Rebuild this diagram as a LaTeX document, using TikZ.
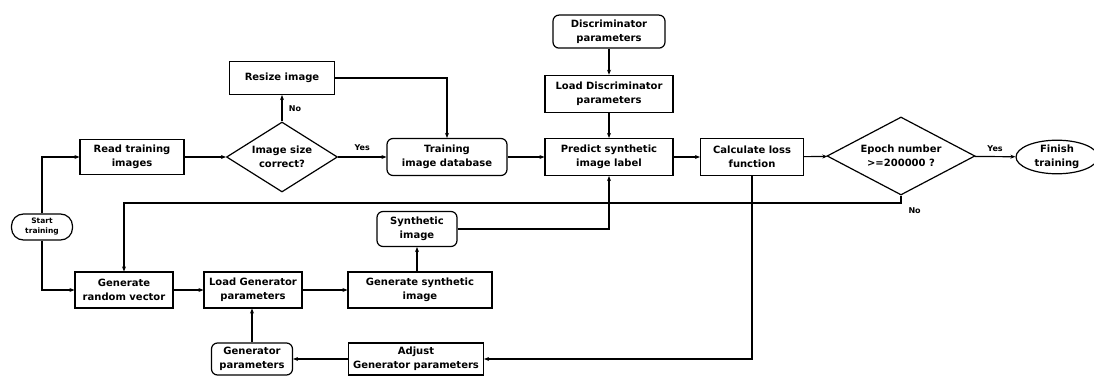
\documentclass[tikz,border=0pt]{standalone}
\usepackage{fontspec}
\setmainfont{DejaVu Sans}
\usepackage{tikz}
\usetikzlibrary{arrows.meta,positioning,shapes.geometric}
\newcommand{\boxfont}{\fontsize{10}{14}\selectfont\bfseries}
\newcommand{\smallfont}{\fontsize{7.5}{10}\selectfont\bfseries}

\begin{document}
\begin{tikzpicture}[x=1pt,y=-1pt,
  box/.style={draw,line width=1.2pt,align=center,font=\boxfont,inner sep=1pt,minimum height=36pt},
  rbox/.style={box,rounded corners=6pt},
  term/.style={draw,line width=1.2pt,align=center,font=\smallfont,inner sep=0pt,rounded corners=12pt,minimum height=26pt},
  dec/.style={draw,diamond,line width=1.2pt,align=center,font=\boxfont,inner sep=0pt},
  lbl/.style={font=\fontsize{8}{9}\selectfont\bfseries},
  ar/.style={-{Stealth[length=5pt,width=4pt]},line width=1.2pt}]
\useasboundingbox (0,0) rectangle (1094,379);
\node[term,minimum width=61pt] (start) at (42,227) {Start\\training};
\node[box,minimum width=104pt,minimum height=35pt] (read) at (132,157) {Read training\\images};
\node[dec,minimum width=111pt,minimum height=70pt,aspect=1.6] (imgsize) at (282,157) {Image size\\correct?};
\node[box,minimum width=105pt,minimum height=33pt] (resize) at (282,78) {Resize image};
\node[rbox,minimum width=120pt,minimum height=37pt] (training) at (447,157) {Training\\image database};
\node[box,minimum width=128pt,minimum height=37pt] (predict) at (609,157) {Predict synthetic\\image label};
\node[box,minimum width=128pt,minimum height=37pt,above=25pt of predict] (loaddisc) {Load Discriminator\\parameters};
\node[rbox,minimum width=112pt,minimum height=33pt,above=26pt of loaddisc] (discparams) {Discriminator\\parameters};
\node[box,minimum width=103pt,minimum height=37pt] (calc) at (752,157) {Calculate loss\\function};
\node[dec,minimum width=148pt,minimum height=78pt,aspect=1.9] (epoch) at (901,156) {Epoch number\\>=200000 ?};
\node[draw,line width=1.2pt,ellipse,align=center,font=\boxfont,inner sep=0pt,minimum width=82pt,minimum height=28pt] (finish) at (1057,157) {Finish\\training};
\node[box,minimum width=98pt] (genrand) at (124,290) {Generate\\random vector};
\node[box,minimum width=98pt] (loadgen) at (253,290) {Load Generator\\parameters};
\node[box,minimum width=144pt] (gensyn) at (420,290) {Generate synthetic\\image};
\node[rbox,minimum width=80pt,minimum height=35pt] (synimg) at (417,229) {Synthetic\\image};
\node[rbox,minimum width=81pt,minimum height=32pt] (genparams) at (252,359) {Generator\\parameters};
\node[box,minimum width=135pt,minimum height=32pt] (adjust) at (416,359) {Adjust\\Generator parameters};
\coordinate (nobend) at (901,203);
\draw[ar] (start.north) |- (read.west);
\draw[ar] (start.south) |- (genrand.west);
\draw[ar] (read) -- (imgsize);
\draw[ar] (imgsize) -- node[lbl,right=3pt]{No} (resize);
\draw[ar] (imgsize) -- node[lbl,above=2pt]{Yes} (training);
\draw[ar] (resize.east) -| (training.north);
\draw[ar] (training) -- (predict);
\draw[ar] (discparams) -- (loaddisc);
\draw[ar] (loaddisc) -- (predict);
\draw[ar] (predict) -- (calc);
\draw[ar] (calc) -- (epoch);
\draw[ar] (epoch) -- node[lbl,above=1pt]{Yes} (finish);
\draw[ar] (epoch.south) -- (nobend) -| (genrand.north);
\node[lbl,below right=1pt and 4pt of nobend] {No};
\draw[ar] (calc.south) |- (adjust.east);
\draw[ar] (adjust) -- (genparams);
\draw[ar] (genparams) -- (genparams |- loadgen.south);
\draw[ar] (genrand) -- (loadgen);
\draw[ar] (loadgen) -- (gensyn);
\draw[ar] (synimg |- gensyn.north) -- (synimg.south);
\draw[ar] (synimg.east) -| (predict.south);
\end{tikzpicture}
\end{document}
